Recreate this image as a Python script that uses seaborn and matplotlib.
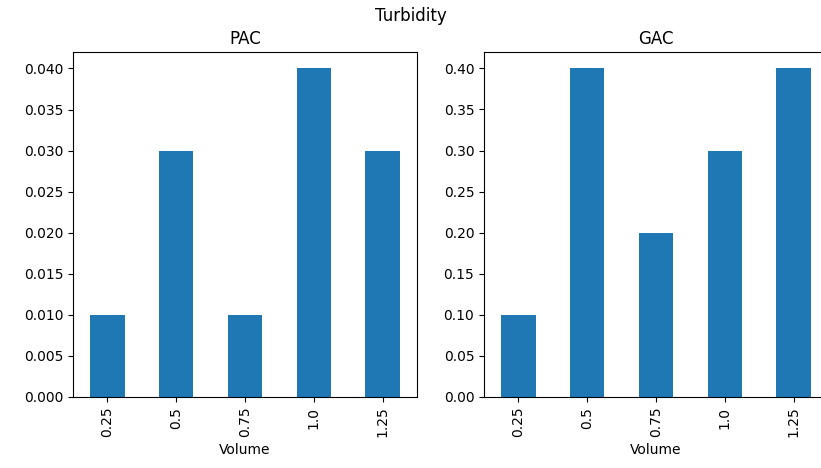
import matplotlib
matplotlib.use("Agg")
import matplotlib.pyplot as plt
import seaborn as sns
import pandas as pd
import numpy as np

volumes = ["0.25", "0.5", "0.75", "1.0", "1.25"]
pac_turbidity = [0.010, 0.030, 0.010, 0.040, 0.030]
gac_turbidity = [0.10, 0.40, 0.20, 0.30, 0.40]

df = pd.DataFrame({"Volume": volumes, "PAC": pac_turbidity, "GAC": gac_turbidity})

fig = plt.figure(figsize=(8.21, 4.68), dpi=100)
ax1 = fig.add_axes([73 / 821, 71 / 468, 344 / 821, 345 / 468])
ax2 = fig.add_axes([484 / 821, 71 / 468, 344 / 821, 345 / 468])

for ax, col, ticks, fmt in [
    (ax1, "PAC", np.arange(0, 0.0401, 0.005), "{:.3f}"),
    (ax2, "GAC", np.arange(0, 0.401, 0.05), "{:.2f}"),
]:
    sns.barplot(data=df, x="Volume", y=col, ax=ax, color="#1f77b4",
                saturation=1, width=0.5)
    ax.set_xlim(-0.5, 4.5)
    ax.set_ylim(0, max(df[col]) * 1.05)
    ax.set_yticks(ticks)
    ax.set_yticklabels([fmt.format(t) for t in ticks])
    ax.tick_params(axis="x", rotation=90)
    ax.set_ylabel("")
    ax.set_xlabel("Volume")
    ax.set_title(col)

fig.suptitle("Turbidity", y=0.985)
fig.savefig("out.png", dpi=100)
